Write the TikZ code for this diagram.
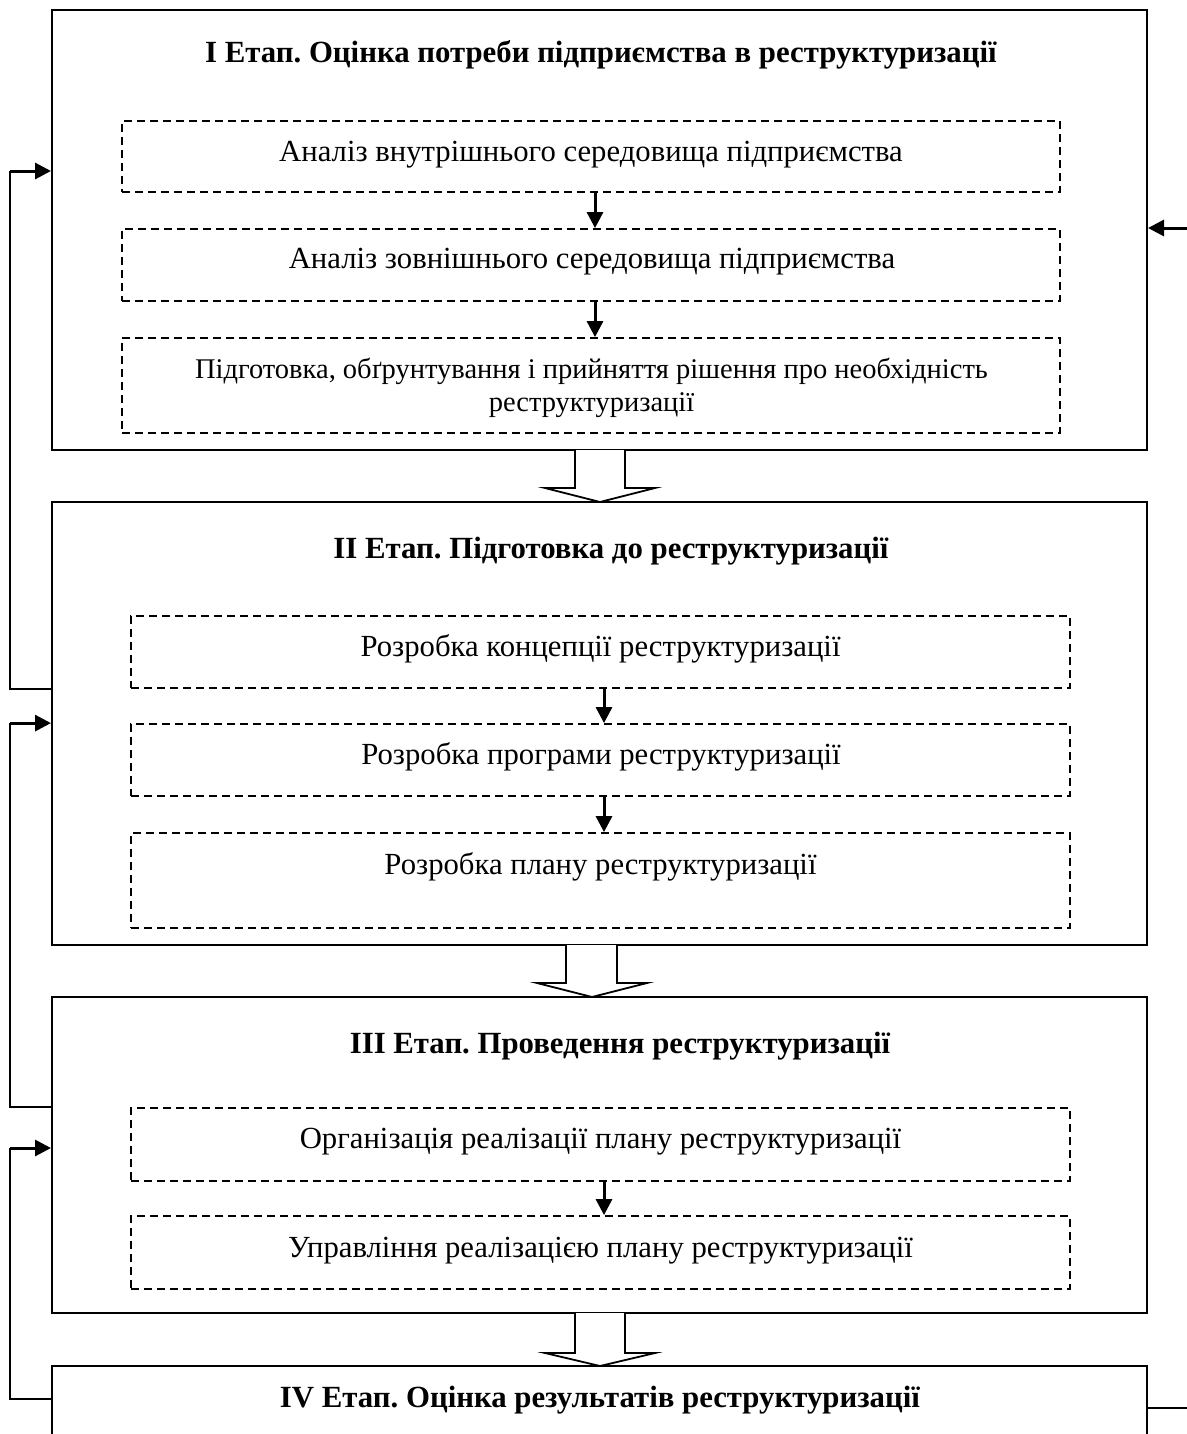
\documentclass[tikz,border=0pt]{standalone}
\usepackage{fontspec}
\setmainfont{Liberation Serif}
\usetikzlibrary{arrows.meta,fit,calc}
\frenchspacing
\begin{document}
\begin{tikzpicture}[x=0.5pt,y=-0.5pt,
 bigbox/.style={draw, line width=1pt, inner sep=0pt},
 dbox/.style={draw, dash pattern=on 4pt off 2.5pt, line width=0.9pt, inner sep=0pt},
 ttl/.style={font=\fontsize{15.4}{17}\selectfont\bfseries, inner sep=0pt, yshift=-1.5pt},
 txt/.style={font=\fontsize{15.35}{16.5}\selectfont, align=center, inner sep=0pt, yshift=-1.5pt},
 steparrow/.style={-{Triangle[length=8pt,width=8pt]}, line width=1.5pt},
 fb/.style={line width=1.1pt},
 fbarrow/.style={-{Triangle[length=8pt,width=8pt]}, line width=1.5pt},
 hollow/.style={draw, fill=white, line width=0.9pt, line join=miter}]
\useasboundingbox (0,0) rectangle (1187,1434);
\clip (0,0) rectangle (1187,1434);
\fill[white] (0,0) rectangle (1187,1434);

% Stage boxes
\node[bigbox, fit={(52,10) (1147,450)}] (s1) {};
\node[bigbox, fit={(52,502) (1147,945)}] (s2) {};
\node[bigbox, fit={(52,997) (1147,1313)}] (s3) {};
\node[bigbox, fit={(52,1366) (1147,1460)}] (s4) {};

% Titles
\node[ttl] (t1) at (601,52) {I Етап. Оцінка потреби підприємства в реструктуризації};
\node[ttl] (t2) at (611,548) {II Етап. Підготовка до реструктуризації};
\node[ttl] (t3) at (620,1043) {III Етап. Проведення реструктуризації};
\node[ttl] (t4) at (600,1397) {IV Етап. Оцінка результатів реструктуризації};

% Stage I dashed boxes
\node[dbox, fit={(122,121) (1060,192)}] (d1a) {};
\node[dbox, fit={(122,229) (1060,301)}] (d1b) {};
\node[dbox, fit={(122,338) (1060,433)}] (d1c) {};
\node[txt] (x1a) at (591,152) {Аналіз внутрішнього середовища підприємства};
\node[txt] (x1b) at (592,259) {Аналіз зовнішнього середовища підприємства};
\node[txt, font=\fontsize{14.25}{16.5}\selectfont] (x1c) at (591.5,385) {Підготовка, обґрунтування і прийняття рішення про необхідність\\реструктуризації};

% Stage II dashed boxes
\node[dbox, fit={(131,616) (1070,688)}] (d2a) {};
\node[dbox, fit={(131,724) (1070,796)}] (d2b) {};
\node[dbox, fit={(131,833) (1070,928)}] (d2c) {};
\node[txt] (x2a) at (600.5,646) {Розробка концепції реструктуризації};
\node[txt] (x2b) at (601,754) {Розробка програми реструктуризації};
\node[txt] (x2c) at (600.5,864) {Розробка плану реструктуризації};

% Stage III dashed boxes
\node[dbox, fit={(131,1108) (1070,1181)}] (d3a) {};
\node[dbox, fit={(131,1216) (1070,1289)}] (d3b) {};
\node[txt] (x3a) at (600.5,1139) {Організація реалізації плану реструктуризації};
\node[txt] (x3b) at (600.5,1248) {Управління реалізацією плану реструктуризації};

% Arrows between dashed boxes
\draw[steparrow] (d1a.south -| 595,0) -- (d1b.north -| 595,0);
\draw[steparrow] (d1b.south -| 595,0) -- (d1c.north -| 595,0);
\draw[steparrow] (d2a.south -| 604,0) -- (d2b.north -| 604,0);
\draw[steparrow] (d2b.south -| 604,0) -- (d2c.north -| 604,0);
\draw[steparrow] (d3a.south -| 604,0) -- (d3b.north -| 604,0);

% Hollow arrows between stages
\draw[hollow] (575,450) -- (575,488) -- (545,488) -- (600,502) -- (655,488) -- (625,488) -- (625,450);
\draw[hollow] (566,945) -- (566,983) -- (537,983) -- (592,997) -- (647,983) -- (617,983) -- (617,945);
\draw[hollow] (575,1313) -- (575,1353) -- (545,1353) -- (600,1366) -- (655,1353) -- (625,1353) -- (625,1313);

% Feedback connectors (left)
\coordinate (l1) at (10,0);
\draw[fb] (s2.west |- d2a.south) -- (l1 |- d2a.south) -- (l1 |- 0,171);
\draw[fbarrow] (10,171) -- (s1.west |- 0,171);
\draw[fb] (s3.west |- d3a.north) -- (l1 |- d3a.north) -- (l1 |- d2b.north);
\draw[fbarrow] (l1 |- d2b.north) -- (s2.west |- d2b.north);
\draw[fb] (s4.west |- 0,1399) -- (l1 |- 0,1399) -- (l1 |- 0,1148);
\draw[fbarrow] (l1 |- 0,1148) -- (s3.west |- 0,1148);

% Feedback connectors (right)
\coordinate (r1) at (1190,228);
\coordinate (r2) at (1190,1408);
\draw[fbarrow] (r1) -- (s1.east |- r1);
\draw[fb] (s4.east |- r2) -- (r2);
\end{tikzpicture}
\end{document}
